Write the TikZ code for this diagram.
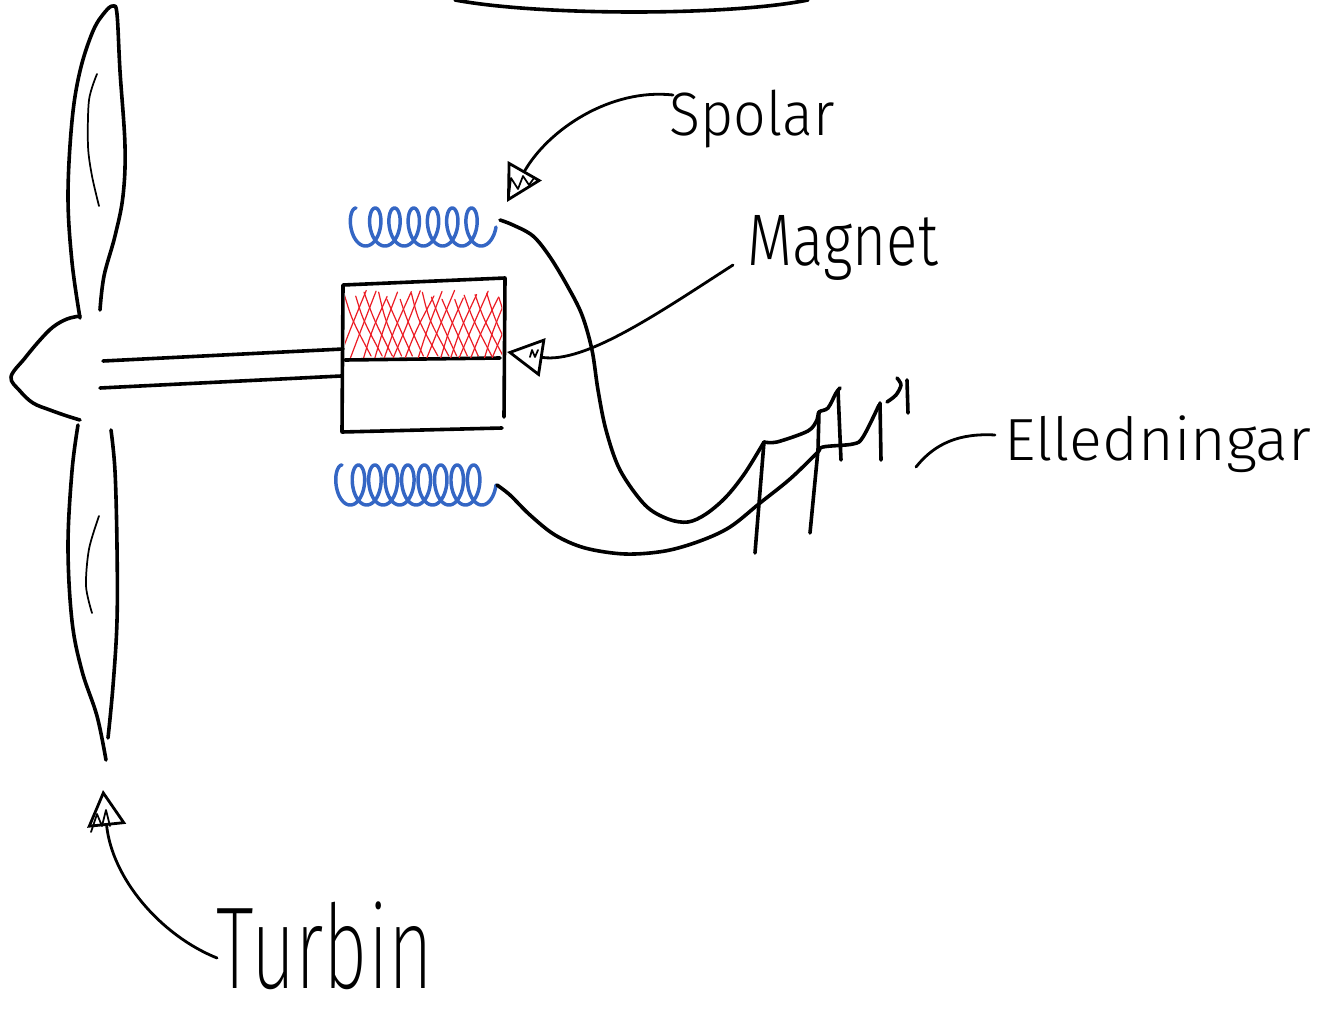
\documentclass[tikz,border=0pt]{standalone}
\usepackage{fontspec}
\newfontfamily\hand{Fira Sans Light}
\newfontfamily\handthin{Fira Sans ExtraLight}
\usetikzlibrary{arrows.meta}

\definecolor{coilblue}{RGB}{52,102,196}
\definecolor{hatchred}{RGB}{236,28,36}

\begin{document}
\begin{tikzpicture}[x=0.75pt,y=-0.75pt,
  ink/.style={line width=2.7pt, line cap=round, line join=round},
  fine ink/.style={line width=1.3pt, line cap=round, line join=round},
  leader/.style={line width=2.1pt, line cap=round,
    -{Triangle[open, length=27pt, width=29pt, line width=2.1pt]}},
  coil/.style={coilblue, line width=2.6pt, line cap=round, line join=round},
  hatch/.style={hatchred, line width=0.9pt, line cap=round},
  hw/.style={inner sep=0pt, font=\hand},
]
\useasboundingbox (0,0) rectangle (1322,1014);

% arc along the top edge
\draw[ink] (455,0) .. controls (540,16) and (730,16) .. (808,0);

% ---- turbine ----
% upper blade
\draw[ink] plot[smooth, tension=0.6] coordinates {(80,318) (72,262) (68,196) (72,121) (80,71) (93,31) (105,12) (113,6) (117,14) (120,71) (125,146) (123,196) (115,236) (104,276) (100,310)};
\draw[fine ink] plot[smooth] coordinates {(97,74) (89,100) (88,146) (92,176) (99,206)};
% hub
\draw[ink] plot[smooth, tension=0.6] coordinates {(80,316) (67,319) (53,327) (40,340) (25,358) (11,377) (20,391) (33,403) (50,410) (67,416) (80,420)};
% lower blade
\draw[ink] plot[smooth, tension=0.6] coordinates {(78,425) (72,471) (68,546) (72,621) (82,671) (97,716) (106,760)};
\draw[ink] plot[smooth, tension=0.6] coordinates {(111,430) (115,471) (117,546) (117,621) (113,686) (108,738)};
\draw[fine ink] plot[smooth] coordinates {(99,516) (89,549) (86,586) (92,613)};

% ---- shaft ----
\draw[ink] (103,361) -- (343,349);
\draw[ink] (100,388) -- (341,376);

% ---- generator housing ----
\draw[ink] (504,417) -- (505,278) -- (343,285) -- (342,432) -- (502,428);
\draw[ink] (345,360) -- (500,358);

% magnet hatching
\begin{scope}
  \clip (345,289) rectangle (502,357);
  \pgfmathsetseed{17}
  \foreach \i in {0,...,14} {
    \draw[hatch] ({338+11*\i+4*rnd},358) .. controls ({350+11*\i},{330}) .. ({364+11*\i+4*rnd},{290+8*rnd});
    \draw[hatch] ({342+11*\i+4*rnd},{292+8*rnd}) .. controls ({352+11*\i},{320}) .. ({368+11*\i+4*rnd},356);
  }
\end{scope}

% ---- coils ----
\draw[coil] plot[domain=90:2520, samples=500, variable=\t]
  ({356 + 0.053498*(\t-90) + 10*cos(\t)}, {227 - 19*sin(\t)});
\draw[coil] plot[domain=90:3240, samples=600, variable=\t]
  ({342 + 0.045714*(\t-90) + 10*cos(\t)}, {485 - 20*sin(\t)});

% ---- wires and poles ----
\coordinate (coilA) at (500,220);
\coordinate (coilB) at (497,485);
\coordinate (pole1) at (764,442);
\coordinate (pole2) at (819,412);
\coordinate (pole3) at (840,388);
\coordinate (pole4) at (879,405);

\draw[ink] plot[smooth, tension=0.55] coordinates {(coilA) (513,225) (533,236) (550,257) (568,287) (582,315) (592,350) (598,390) (606,430) (620,470) (645,505) (668,519) (688,522) (706,514) (726,497) (745,473) (pole1)};
\draw[ink] plot[smooth, tension=0.5] coordinates {(pole1) (777,442) (808,431) (817,420) (pole2) (828,408) (836,393) (pole3)};

\draw[ink] plot[smooth, tension=0.55] coordinates {(coilB) (510,495) (530,515) (555,535) (585,548) (625,554) (665,551) (700,541) (730,527) (760,503) (790,479) (817,453) (823,447) (853,444) (863,437) (pole4)};
\draw[ink] plot[smooth] coordinates {(887,402) (896,395) (901,385) (897,378)};
\draw[ink] (907,380) -- (908,413);

\draw[ink] (pole1) -- (755,553);
\draw[ink] (pole2) -- (818,450) -- (810,533);
\draw[ink] (838,390) -- (841,460);
\draw[ink] (880,403) -- (881,460);

% ---- labels ----
\node[hw] (spolar) at (752,119) {\resizebox*{123.75pt}{43.5pt}{Spolar}};
\node[hw] (magnet) at (843,248) {\resizebox*{142.5pt}{48.75pt}{Magnet}};
\node[hw] (elledn) at (1158,444) {\resizebox*{230pt}{42.75pt}{Elledningar}};
\node[hw, font=\handthin] (turbin) at (325,946) {\resizebox*{162pt}{66pt}{Turbin}};

% ---- leaders ----
\coordinate (spolStart) at (673,95);
\coordinate (spolTip) at (507,202);
\coordinate (magStart) at (733,265);
\coordinate (magTip) at (507,352);
\coordinate (turbStart) at (217,958);
\coordinate (turbTip) at (103,790);
\coordinate (elStart) at (995,435);
\coordinate (elEnd) at (916,467);

\draw[leader] (spolStart) .. controls (610,88) and (548,130) .. (spolTip);
\draw[leader] (magStart) .. controls (660,312) and (585,364) .. (magTip);
\draw[leader] (turbStart) .. controls (160,935) and (112,878) .. (turbTip);
\draw[ink, line width=2.1pt] (elStart) .. controls (960,433) and (935,443) .. (elEnd);

% scribbles inside the arrow heads
\draw[fine ink] (509,195) -- (511,178) -- (518,189) -- (523,176) -- (529,185) -- (534,178);
\draw[fine ink] (91,832) -- (97,814) -- (102,826) -- (106,810) -- (110,826);
\draw[fine ink] (530,357) -- (532,350) -- (535,357) -- (538,350);

\end{tikzpicture}
\end{document}
